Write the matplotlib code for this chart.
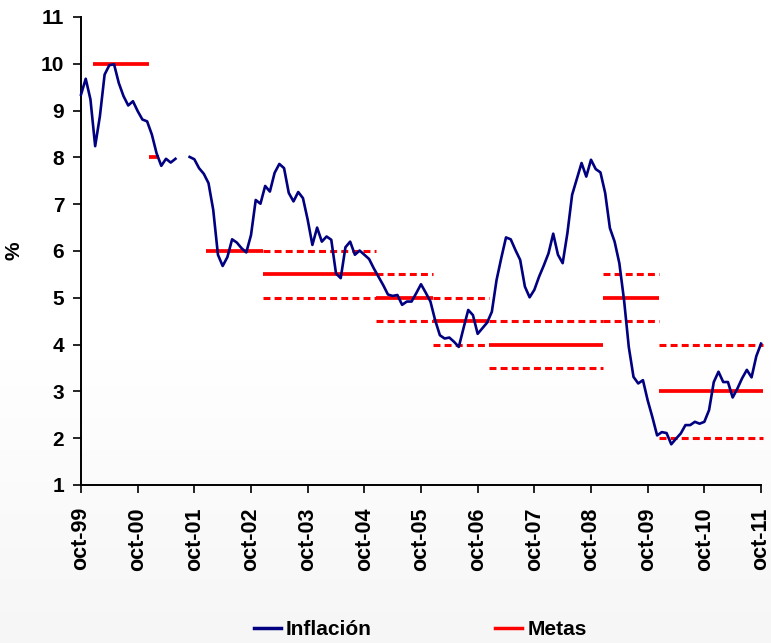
import numpy as np
import matplotlib
matplotlib.use("Agg")
import matplotlib.pyplot as plt
from matplotlib.lines import Line2D

plt.rcParams['font.family'] = ['Liberation Sans', 'DejaVu Sans']
plt.rcParams['lines.scale_dashes'] = False

# Monthly inflation (%), oct-99 .. oct-11 (months 21-22 hidden in the reference)
inflacion = [
    9.34, 9.68, 9.24, 8.24, 8.88, 9.77, 9.97, 9.99, 9.59, 9.31, 9.11, 9.20,
    8.99, 8.81, 8.77, 8.49, 8.09, 7.82, 7.97, 7.89, 7.97, np.nan, np.nan, 8.01,
    7.96, 7.77, 7.65, 7.45, 6.88, 5.92, 5.68, 5.87, 6.25, 6.18, 6.06, 5.97,
    6.34, 7.09, 7.01, 7.39, 7.27, 7.67, 7.86, 7.77, 7.24, 7.06, 7.26, 7.13,
    6.67, 6.13, 6.50, 6.20, 6.31, 6.24, 5.52, 5.42, 6.08, 6.20, 5.92, 6.01,
    5.92, 5.83, 5.63, 5.45, 5.27, 5.07, 5.04, 5.06, 4.85, 4.92, 4.92, 5.10,
    5.29, 5.11, 4.92, 4.52, 4.20, 4.13, 4.15, 4.06, 3.95, 4.35, 4.74, 4.63,
    4.23, 4.35, 4.47, 4.70, 5.38, 5.85, 6.29, 6.25, 6.02, 5.81, 5.24, 5.01,
    5.17, 5.45, 5.69, 5.95, 6.37, 5.92, 5.74, 6.38, 7.20, 7.54, 7.88, 7.59,
    7.95, 7.75, 7.68, 7.24, 6.49, 6.20, 5.74, 4.95, 3.95, 3.31, 3.17, 3.24,
    2.81, 2.45, 2.06, 2.13, 2.11, 1.87, 1.99, 2.10, 2.28, 2.28, 2.35, 2.31,
    2.35, 2.60, 3.20, 3.42, 3.20, 3.20, 2.87, 3.06, 3.28, 3.46, 3.30, 3.75,
    4.02,
]

# Inflation targets: first and last month index (0 = oct-99), target, band
meta_inicio = [3, 15, 27, 39, 63, 75, 87, 111, 123]
meta_fin = [14, 16, 38, 62, 74, 86, 110, 122, 144]
meta_valor = [10, 8, 6, 5.5, 5, 4.5, 4, 5, 3]
meta_min = [np.nan, np.nan, np.nan, 5, 4.5, 4, 3.5, 4.5, 2]
meta_max = [np.nan, np.nan, np.nan, 6, 5.5, 5, 4.5, 5.5, 4]

tick_labels = ['oct-99', 'oct-00', 'oct-01', 'oct-02', 'oct-03', 'oct-04',
               'oct-05', 'oct-06', 'oct-07', 'oct-08', 'oct-09', 'oct-10', 'oct-11']

BLUE = '#000080'
RED = '#FF0000'

fig = plt.figure(figsize=(7.71, 6.43), dpi=100)

# faint background shading (white at top, light grey toward the bottom)
bg = fig.add_axes([0, 0, 1, 1], zorder=-10)
grad = np.concatenate([np.ones(55), np.linspace(1.0, 0.965, 45)])[:, None]
bg.imshow(np.dstack([grad, grad, grad]), aspect='auto', extent=[0, 1, 0, 1], origin='upper')
bg.set_axis_off()

ax = fig.add_axes([81 / 771, 1 - 485 / 643, 680 / 771, 468 / 643])
ax.set_facecolor('none')

months = np.arange(len(inflacion))

for s, e, v, lo, hi in zip(meta_inicio, meta_fin, meta_valor, meta_min, meta_max):
    xs = [s - 0.5, e + 0.5]
    if not np.isnan(hi):
        ax.plot(xs, [hi, hi], color=RED, lw=2.2, dashes=(5, 3), clip_on=False, zorder=2)
        ax.plot(xs, [lo, lo], color=RED, lw=2.2, dashes=(5, 3), clip_on=False, zorder=2)
    ax.plot(xs, [v, v], color=RED, lw=2.7, solid_capstyle='butt', clip_on=False, zorder=2)

ax.plot(months, inflacion, color=BLUE, lw=1.9, zorder=3, clip_on=False)

ax.set_xlim(0, 144)
ax.set_ylim(1, 11)
ax.set_yticks(range(1, 12))
ax.set_xticks(np.arange(0, 145, 12))
ax.set_xticklabels(tick_labels, rotation=90, fontsize=15.5, fontweight='bold')
ax.set_yticklabels([str(v) for v in range(1, 12)], fontsize=15, fontweight='bold')
ax.tick_params(axis='both', direction='out', length=6, width=1.2, pad=4)
ax.tick_params(axis='x', pad=10)
ax.tick_params(axis='y', pad=6)
for side in ['top', 'right']:
    ax.spines[side].set_visible(False)
for side in ['left', 'bottom']:
    ax.spines[side].set_linewidth(1.4)
ax.set_ylabel('%', fontsize=15, fontweight='bold')
ax.yaxis.set_label_coords(-0.084, 0.5)

handles = [Line2D([], [], color=BLUE, lw=2.5), Line2D([], [], color=RED, lw=2.5)]
fig.legend(handles, ['Inflación', 'Metas'], loc='center', bbox_to_anchor=(0.545, 0.021),
           ncol=2, frameon=False, handlelength=1.3, handletextpad=0.25, columnspacing=5.9,
           prop={'weight': 'bold', 'size': 15})

fig.savefig('out.png', dpi=100)
